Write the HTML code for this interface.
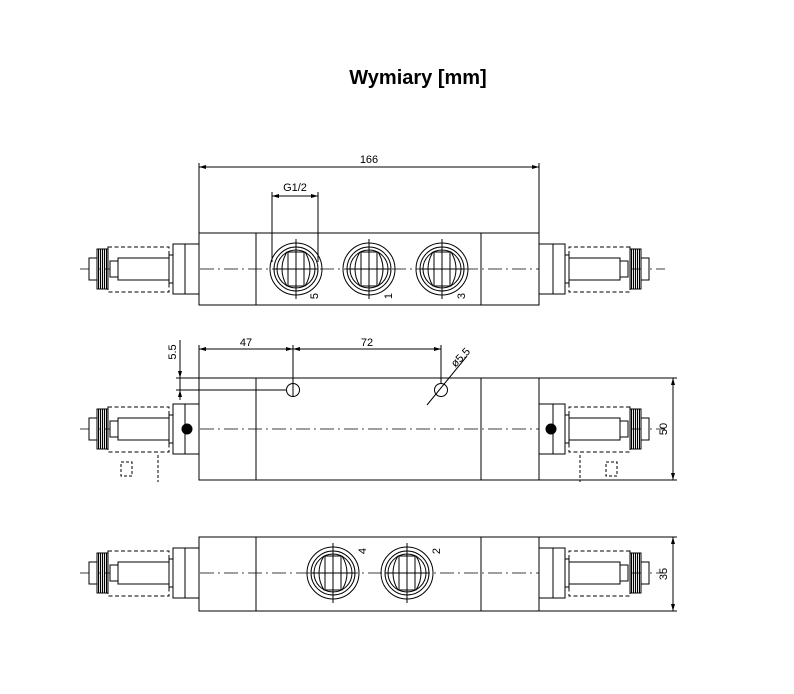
<!DOCTYPE html>
<html><head><meta charset="utf-8"><style>
html,body{margin:0;padding:0;background:#fff}
svg{display:block}
text{font-family:"Liberation Sans",sans-serif;fill:#000}
</style></head><body>
<svg width="794" height="694" viewBox="0 0 794 694" xmlns="http://www.w3.org/2000/svg">
<defs>
<pattern id="kn" width="2" height="2" patternUnits="userSpaceOnUse"><rect width="1.1" height="2" fill="#000"/></pattern>
<g id="act" fill="none" stroke="#000" stroke-width="1">
  <rect x="173" y="-25" width="26" height="50" fill="#fff"/>
  <line x1="185" y1="-25" x2="185" y2="25"/>
  <rect x="169" y="-14" width="4" height="28" fill="#fff"/>
  <rect x="108" y="-22" width="61" height="45" stroke-dasharray="4,2.5"/>
  <rect x="118" y="-11" width="51" height="22" fill="#fff"/>
  <rect x="110" y="-8" width="8" height="16" fill="#fff"/>
  <rect x="97" y="-20" width="11" height="40" fill="url(#kn)" stroke="#000"/>
  <rect x="89" y="-11" width="8" height="22" fill="#fff"/>
</g>
<g id="port" fill="none" stroke="#000" stroke-width="1">
  <circle r="26"/><circle r="22"/><circle r="19"/>
  <path d="M-9,-17 L9,-17 Q14,-9 14,0 Q14,9 9,17 L-9,17 Q-14,9 -14,0 Q-14,-9 -9,-17Z"/>
  <line x1="-8" y1="-17" x2="-8" y2="17"/><line x1="8" y1="-17" x2="8" y2="17"/>
  <line x1="0" y1="-30" x2="0" y2="30"/><line x1="-22" y1="0" x2="22" y2="0"/>
</g>
</defs>
<text x="418" y="84" font-size="20" font-weight="bold" text-anchor="middle">Wymiary [mm]</text>

<g fill="none" stroke="#000" stroke-width="1">
<!-- VIEW 1 -->
<line x1="80" y1="269" x2="665" y2="269" stroke-dasharray="14,4,2,4" stroke-width="0.8"/>
<rect x="199" y="233" width="340" height="72"/>
<line x1="256" y1="233" x2="256" y2="305"/><line x1="481" y1="233" x2="481" y2="305"/>
<line x1="199" y1="163" x2="199" y2="233"/><line x1="539" y1="163" x2="539" y2="233"/>
<line x1="199" y1="167" x2="539" y2="167"/>
<line x1="272" y1="192" x2="272" y2="262"/><line x1="318" y1="192" x2="318" y2="262"/>
<line x1="272" y1="196" x2="318" y2="196"/>
<use href="#port" x="296" y="269"/><use href="#port" x="369" y="269"/><use href="#port" x="442" y="269"/>
<use href="#act" transform="translate(0,269)"/>
<use href="#act" transform="translate(738,269) scale(-1,1)"/>

<!-- VIEW 2 -->
<line x1="80" y1="429" x2="665" y2="429" stroke-dasharray="14,4,2,4" stroke-width="0.8"/>
<rect x="199" y="378" width="340" height="102"/>
<line x1="256" y1="378" x2="256" y2="480"/><line x1="481" y1="378" x2="481" y2="480"/>
<line x1="176" y1="378" x2="199" y2="378"/>
<line x1="176" y1="390" x2="286" y2="390"/>
<line x1="180" y1="340" x2="180" y2="400"/>
<circle cx="293" cy="390" r="6.5"/><circle cx="441" cy="390" r="6.5"/>
<line x1="293" y1="345" x2="293" y2="396"/><line x1="441" y1="345" x2="441" y2="383"/>
<line x1="199" y1="345" x2="199" y2="378"/>
<line x1="199" y1="349" x2="441" y2="349"/>
<line x1="427" y1="405" x2="467" y2="356"/>
<line x1="539" y1="378" x2="677" y2="378"/><line x1="539" y1="480" x2="677" y2="480"/>
<line x1="673" y1="378" x2="673" y2="480"/>
<use href="#act" transform="translate(0,429)"/>
<use href="#act" transform="translate(738,429) scale(-1,1)"/>
<circle cx="187" cy="429" r="5" fill="#000"/><circle cx="551" cy="429" r="5" fill="#000"/>
<g stroke-dasharray="3,2"><line x1="158" y1="455" x2="158" y2="482"/><line x1="580" y1="455" x2="580" y2="482"/>
<rect x="121" y="462" width="11" height="14"/><rect x="606" y="462" width="11" height="14"/></g>

<!-- VIEW 3 -->
<line x1="80" y1="573" x2="665" y2="573" stroke-dasharray="14,4,2,4" stroke-width="0.8"/>
<rect x="199" y="537" width="340" height="74"/>
<line x1="256" y1="537" x2="256" y2="611"/><line x1="481" y1="537" x2="481" y2="611"/>
<use href="#port" x="333" y="573"/><use href="#port" x="407" y="573"/>
<line x1="539" y1="537" x2="677" y2="537"/><line x1="539" y1="611" x2="677" y2="611"/>
<line x1="673" y1="537" x2="673" y2="611"/>
<use href="#act" transform="translate(0,573)"/>
<use href="#act" transform="translate(738,573) scale(-1,1)"/>
</g>
<g fill="#000">
<path d="M199,167 l7,-2 v4z M539,167 l-7,-2 v4z M272,196 l7,-2 v4z M318,196 l-7,-2 v4z
M199,349 l7,-2 v4z M293,349 l-7,-2 v4z M293,349 l7,-2 v4z M441,349 l-7,-2 v4z
M673,378 l-2,7 h4z M673,480 l-2,-7 h4z M673,537 l-2,7 h4z M673,611 l-2,-7 h4z
M180,378 l-2,-7 h4z M180,390 l-2,7 h4z"/>
</g>
<g font-size="11">
<text x="369" y="163" text-anchor="middle">166</text>
<text x="295" y="191" text-anchor="middle">G1/2</text>
<text x="246" y="346" text-anchor="middle">47</text>
<text x="367" y="346" text-anchor="middle">72</text>
<text transform="translate(176,352) rotate(-90)" text-anchor="middle">5.5</text>
<text transform="translate(463,360) rotate(-45)" text-anchor="middle">ø5.5</text>
<text transform="translate(667,429) rotate(-90)" text-anchor="middle">50</text>
<text transform="translate(667,574) rotate(-90)" text-anchor="middle">35</text>
<text transform="translate(318,296) rotate(-90)" text-anchor="middle">5</text>
<text transform="translate(392,296) rotate(-90)" text-anchor="middle">1</text>
<text transform="translate(465,296) rotate(-90)" text-anchor="middle">3</text>
<text transform="translate(366,551) rotate(-90)" text-anchor="middle">4</text>
<text transform="translate(440,551) rotate(-90)" text-anchor="middle">2</text>
</g>
</svg>
</body></html>
